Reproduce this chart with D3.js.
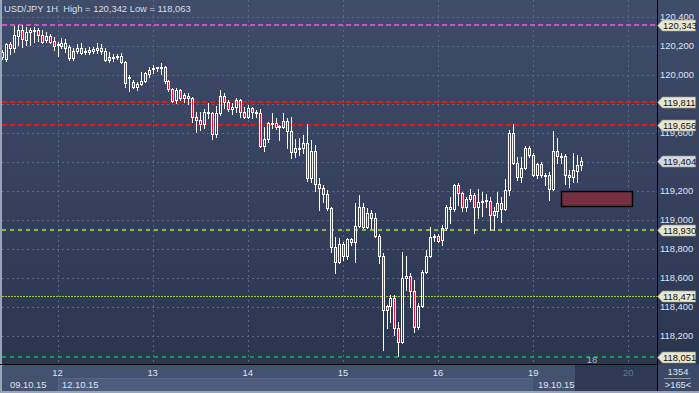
<!DOCTYPE html>
<html><head><meta charset="utf-8">
<script src="https://cdn.jsdelivr.net/npm/d3@7"></script>
<style>
html,body{margin:0;padding:0;background:#36435f;overflow:hidden}
svg{display:block}
text{font-family:"Liberation Sans",Arial,sans-serif}
</style>
</head><body>
<svg id="c" width="699" height="393"></svg>
<script>
// ---------- data ----------
const firstIndex = -62; // hourly bar index relative to 14 Oct 00:00
const opens = [120.122,120.108,120.212,120.184,120.267,120.308,120.240,120.295,120.302,120.308,120.274,120.240,120.267,120.233,
120.212,120.198,120.219,120.191,120.115,120.164,120.184,120.164,120.157,120.164,120.171,120.184,120.164,120.122,120.122,120.126,120.129,120.088,119.977,119.950,119.915,119.936,119.957,120.005,
120.039,120.043,120.046,120.053,119.957,119.901,119.826,119.895,119.860,119.853,119.839,119.708,119.688,119.660,119.736,119.736,119.591,119.736,119.853,119.812,119.763,119.777,119.826,119.743,
119.708,119.770,119.743,119.736,119.508,119.556,119.660,119.667,119.646,119.639,119.681,119.612,119.467,119.494,119.494,119.529,119.287,119.474,119.246,119.218,119.177,119.080,118.811,118.708,
118.832,118.749,118.866,118.846,118.956,119.087,118.949,119.046,119.011,118.887,118.749,118.377,118.404,118.460,118.253,118.156,118.597,118.611,118.508,118.260,118.404,118.639,118.749,118.880,
118.887,118.860,118.942,119.073,119.073,119.239,119.184,119.087,119.142,119.170,119.087,119.125,119.129,119.129,119.032,119.060,119.115,119.073,119.205,119.598,119.391,119.294,119.356,119.494,
119.446,119.308,119.384,119.308,119.308,119.211,119.474,119.439,119.439,119.294,119.294,119.336,119.377];
const highs = [120.171,120.219,120.226,120.336,120.342,120.340,120.329,120.322,120.329,120.322,120.308,120.295,120.281,120.260,
120.226,120.253,120.246,120.205,120.184,120.212,120.219,120.184,120.191,120.191,120.219,120.212,120.184,120.157,120.143,120.143,120.150,120.095,119.998,119.964,119.950,120.019,120.019,120.053,
120.067,120.053,120.081,120.060,119.964,119.908,119.908,119.901,119.874,119.874,119.846,119.743,119.743,119.763,119.805,119.743,119.784,119.895,119.874,119.826,119.805,119.839,119.832,119.777,
119.791,119.777,119.757,119.763,119.639,119.674,119.736,119.701,119.653,119.736,119.701,119.708,119.556,119.563,119.584,119.660,119.550,119.515,119.287,119.239,119.205,119.087,118.880,118.873,
118.846,118.873,118.873,119.115,119.170,119.115,119.080,119.067,119.046,118.901,118.770,118.411,118.480,118.480,118.294,118.777,118.749,118.632,118.584,118.425,118.653,118.791,118.949,118.901,
118.901,118.963,119.101,119.156,119.246,119.253,119.191,119.156,119.211,119.184,119.211,119.191,119.177,119.156,119.087,119.191,119.156,119.280,119.619,119.660,119.432,119.432,119.508,119.508,
119.460,119.391,119.398,119.322,119.329,119.612,119.563,119.460,119.453,119.343,119.460,119.446,119.432];
const lows = [120.108,120.095,120.143,120.157,120.205,120.191,120.205,120.205,120.226,120.233,120.219,120.226,120.219,120.171,
120.129,120.184,120.157,120.102,120.102,120.150,120.143,120.143,120.143,120.150,120.150,120.143,120.095,120.088,120.095,120.108,120.081,119.915,119.888,119.908,119.895,119.929,119.950,119.984,
120.012,120.026,120.005,119.943,119.888,119.812,119.805,119.826,119.812,119.798,119.674,119.605,119.619,119.632,119.701,119.556,119.570,119.722,119.770,119.750,119.729,119.743,119.708,119.701,
119.701,119.701,119.708,119.501,119.474,119.536,119.632,119.625,119.550,119.632,119.494,119.425,119.432,119.446,119.460,119.267,119.260,119.198,119.067,119.122,119.067,118.777,118.632,118.701,
118.722,118.728,118.825,118.708,118.949,118.942,118.942,118.942,118.880,118.701,118.101,118.253,118.294,118.205,118.063,118.149,118.515,118.398,118.225,118.246,118.398,118.632,118.742,118.853,
118.846,118.825,118.929,118.977,119.060,119.101,119.060,119.060,119.129,118.908,119.011,119.025,119.087,118.929,118.929,119.018,118.984,119.067,119.170,119.384,119.274,119.260,119.349,119.432,
119.301,119.287,119.294,119.239,119.136,119.205,119.391,119.391,119.246,119.225,119.260,119.260,119.343];
const closes = [120.157,120.212,120.184,120.274,120.308,120.246,120.295,120.308,120.306,120.274,120.226,120.267,120.226,120.198,
120.209,120.219,120.184,120.115,120.164,120.184,120.150,120.157,120.171,120.177,120.184,120.164,120.102,120.102,120.119,120.129,120.088,119.943,119.984,119.915,119.936,119.957,120.012,120.033,
120.046,120.050,120.053,119.957,119.901,119.819,119.895,119.839,119.839,119.839,119.708,119.688,119.660,119.743,119.743,119.591,119.736,119.853,119.812,119.763,119.777,119.826,119.743,119.708,
119.770,119.743,119.736,119.508,119.556,119.670,119.667,119.639,119.639,119.681,119.612,119.467,119.494,119.498,119.529,119.287,119.474,119.246,119.218,119.177,119.080,118.811,118.708,118.832,
118.749,118.866,118.846,118.956,119.087,118.949,119.046,119.011,118.887,118.749,118.377,118.404,118.460,118.253,118.156,118.597,118.611,118.508,118.260,118.404,118.639,118.749,118.880,118.887,
118.853,118.942,119.087,119.087,119.239,119.184,119.087,119.142,119.170,119.087,119.122,119.132,119.136,119.032,119.060,119.115,119.073,119.205,119.598,119.391,119.294,119.356,119.494,119.446,
119.308,119.384,119.308,119.301,119.211,119.474,119.439,119.432,119.308,119.308,119.343,119.377,119.404];

const dayLabels = ["12","13","14","15","16","19","20"];
const dayIndex  = [-48,-24,0,24,48,72,96];
const dateLabels = ["09.10.15","12.10.15","19.10.15"];
const levelValues = [120.343,119.811,119.656,118.930,118.471,118.051];
const lastPrice = 119.404;
const priceTicks = [118.2,118.4,118.6,118.8,119.0,119.2,119.4,119.6,119.8,120.0,120.2,120.4];
const zoneFrom = 79, zoneTo = 97, zoneTop = 119.198, zoneBottom = 119.097;
const titleText = "USD/JPY 1H  High = 120,342 Low = 118,063";
const barsText = "1354", shiftText = ">165<";

// ---------- layout ----------
const W=699, H=393, plotL=2, plotR=657, plotB=364;
const fmt = v => d3.format(".3f")(v).replace(".", ",");
const xs = d3.scaleLinear().domain([-48,96]).range([57.5,628.3]);
const ys = d3.scaleLinear().domain([118.051,120.343]).range([357.3,25]);
const px = v => Math.round(v)+0.5;

const svg = d3.select("#c");
const defs = svg.append("defs");
const gr = defs.append("linearGradient").attr("id","bg").attr("x1",0).attr("y1",0).attr("x2",0).attr("y2",1);
gr.append("stop").attr("offset","0%").attr("stop-color","#3f4c6a");
gr.append("stop").attr("offset","100%").attr("stop-color","#2b3651");
defs.append("clipPath").attr("id","plotclip").append("rect").attr("x",plotL).attr("y",0).attr("width",plotR-plotL).attr("height",plotB);

svg.append("rect").attr("width",W).attr("height",plotB).attr("fill","url(#bg)");

const plot = svg.append("g").attr("clip-path","url(#plotclip)");

// grid
plot.selectAll("line.hg").data(priceTicks).join("line").attr("class","hg")
  .attr("x1",plotL).attr("x2",plotR).attr("y1",d=>px(ys(d))).attr("y2",d=>px(ys(d)))
  .attr("stroke","#5a6988").attr("stroke-dasharray","2,3");
plot.selectAll("line.vg").data(dayIndex).join("line").attr("class","vg")
  .attr("x1",d=>px(xs(d))).attr("x2",d=>px(xs(d))).attr("y1",0).attr("y2",plotB)
  .attr("stroke","#5a6988").attr("stroke-dasharray","2,3");

// level lines
const levelStyle = [
  {c:"#cc52cc",w:2,d:"5,3"},
  {c:"#e01a1a",w:2,d:"5,3"},
  {c:"#e01a1a",w:2,d:"5,3"},
  {c:"#86bf3c",w:2,d:"4,4"},
  {c:"#9ccc3a",w:1,d:"2,1"},
  {c:"#129a4c",w:2,d:"4,4"}
];
plot.selectAll("line.lv").data(levelValues).join("line").attr("class","lv")
  .attr("x1",plotL).attr("x2",plotR)
  .attr("y1",(d,i)=>levelStyle[i].w===1?px(ys(d)):Math.round(ys(d)))
  .attr("y2",(d,i)=>levelStyle[i].w===1?px(ys(d)):Math.round(ys(d)))
  .attr("stroke",(d,i)=>levelStyle[i].c).attr("stroke-width",(d,i)=>levelStyle[i].w)
  .attr("stroke-dasharray",(d,i)=>levelStyle[i].d);

// zone rectangle
plot.append("rect")
  .attr("x",px(xs(zoneFrom))).attr("y",px(ys(zoneTop)))
  .attr("width",Math.round(xs(zoneTo)-xs(zoneFrom))).attr("height",Math.round(ys(zoneBottom)-ys(zoneTop)))
  .attr("fill","#742f40").attr("stroke","#000").attr("stroke-width",1.5);

// candles
const candles = d3.range(opens.length).map(i=>({k:firstIndex+i,o:opens[i],h:highs[i],l:lows[i],c:closes[i]}));
const cg = plot.append("g");
candles.forEach(d=>{
  const cx = px(xs(d.k));
  const yh = px(ys(d.h)), yl = px(ys(d.l));
  let yt = px(ys(Math.max(d.o,d.c))), yb = px(ys(Math.min(d.o,d.c)));
  if (yb-yt<1) yb = yt+1;
  if (yh<yt) cg.append("line").attr("x1",cx).attr("x2",cx).attr("y1",yh-0.5).attr("y2",yt).attr("stroke","#fff");
  if (yl>yb) cg.append("line").attr("x1",cx).attr("x2",cx).attr("y1",yb).attr("y2",yl+0.5).attr("stroke","#fff");
  cg.append("rect").attr("x",cx-1).attr("y",yt).attr("width",2).attr("height",yb-yt)
    .attr("fill",d.c<d.o?"#e8102c":"none").attr("stroke","#fff").attr("stroke-width",1);
});

// small hour label
plot.append("text").attr("x",592).attr("y",363).attr("text-anchor","middle")
  .attr("font-size","9.3px").attr("fill","#aab3c6").text("18");

// title
svg.append("text").attr("x",4).attr("y",12).attr("font-size","9.4px").attr("fill","#d8dde8")
  .attr("xml:space","preserve").text(titleText);

// left frame
svg.append("rect").attr("x",0).attr("y",0).attr("width",2).attr("height",H).attr("fill","#9aa4b8");

// bottom axis panel
const ax = svg.append("g");
ax.append("rect").attr("x",plotL).attr("y",plotB).attr("width",plotR-plotL).attr("height",H-plotB).attr("fill","#44526f");
ax.append("rect").attr("x",px(xs(dayIndex[0]))-0.5).attr("y",378).attr("width",px(xs(dayIndex[5]))-px(xs(dayIndex[0]))).attr("height",13).attr("fill","#4d5c7c");
ax.append("line").attr("x1",px(xs(dayIndex[0]))-0.5).attr("x2",px(xs(dayIndex[5]))-0.5).attr("y1",378.5).attr("y2",378.5).attr("stroke","#56668a");
ax.append("line").attr("x1",px(xs(dayIndex[0]))).attr("x2",px(xs(dayIndex[0]))).attr("y1",378).attr("y2",391).attr("stroke","#56668a");
ax.append("rect").attr("x",575).attr("y",plotB).attr("width",plotR-575).attr("height",H-plotB).attr("fill","#2d3955");
ax.append("rect").attr("x",0).attr("y",391).attr("width",W).attr("height",2).attr("fill","#9aa4b8");

ax.selectAll("text.day").data(dayLabels).join("text").attr("class","day")
  .attr("x",(d,i)=>xs(dayIndex[i])).attr("y",376).attr("text-anchor","middle")
  .attr("font-size","9.4px").attr("fill",(d,i)=>i===dayLabels.length-1?"#6b7893":"#dde3ee").text(d=>d);
const dateX = [10, 62, 538];
ax.selectAll("text.date").data(dateLabels).join("text").attr("class","date")
  .attr("x",(d,i)=>dateX[i]).attr("y",388).attr("font-size","9.4px").attr("fill","#dde3ee").text(d=>d);

// axis lines
svg.append("line").attr("x1",0).attr("x2",plotR).attr("y1",plotB+0.5).attr("y2",plotB+0.5).attr("stroke","#000");
svg.append("line").attr("x1",plotR+0.5).attr("x2",plotR+0.5).attr("y1",0).attr("y2",H-2).attr("stroke","#000");

// right bottom box
const rb = svg.append("g");
rb.append("rect").attr("x",plotR+1).attr("y",plotB+1).attr("width",W-plotR-1).attr("height",H-plotB-3).attr("fill","#3b4866");
rb.append("text").attr("x",678).attr("y",375).attr("text-anchor","middle").attr("font-size","9.4px").attr("fill","#dde3ee").text(barsText);
rb.append("line").attr("x1",664).attr("x2",691).attr("y1",378.5).attr("y2",378.5).attr("stroke","#8d97ab");
rb.append("text").attr("x",678).attr("y",388).attr("text-anchor","middle").attr("font-size","9.4px").attr("fill","#dde3ee").text(shiftText);

// right axis labels (labels hidden behind a price tag are not drawn, as in the terminal)
const tagVals = levelValues.concat([lastPrice]);
const visibleTicks = priceTicks.filter(v => d3.min(tagVals, t => Math.abs(ys(t)-ys(v))) > 6);
const ra = svg.append("g");
ra.selectAll("text.pt").data(visibleTicks).join("text").attr("class","pt")
  .attr("x",660).attr("y",d=>ys(d)+3.5).attr("font-size","9.4px").attr("fill","#dde5f5").text(d=>fmt(d));

// price tags
const tg = ra.selectAll("g.tag").data(tagVals).join("g").attr("class","tag")
  .attr("transform",d=>`translate(0,${Math.round(ys(d))})`);
tg.append("path").attr("d","M657.5,0.5 L662.5,-5 L695.5,-5 L695.5,6 L662.5,6 Z")
  .attr("fill",d=>d===lastPrice?"#d3d9e4":"#e9e6cf").attr("stroke","#9a9a88").attr("stroke-width",0.6);
tg.append("text").attr("x",663).attr("y",4.2).attr("font-size","9.4px").attr("fill","#111").text(d=>fmt(d));
</script>
</body></html>
